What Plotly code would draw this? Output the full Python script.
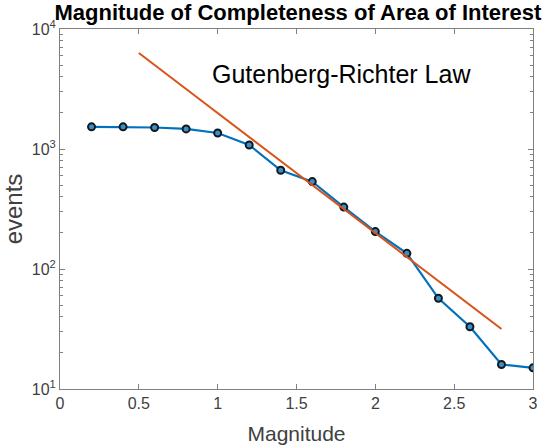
import numpy as np
import plotly.graph_objects as go

# Cumulative event counts per magnitude bin
magnitude = [0.2, 0.4, 0.6, 0.8, 1.0, 1.2, 1.4, 1.6, 1.8, 2.0, 2.2, 2.4, 2.6, 2.8, 3.0]
events = [1530, 1530, 1510, 1470, 1360, 1080, 665, 535, 328, 205, 135, 57, 33, 16, 15]

# Gutenberg-Richter fit: log10(N) = a - b*M
gr_a = 4.3
gr_b = 1.0
gr_range = [0.5, 2.8]

y_tickvals = [10, 100, 1000, 10000]
y_ticktext = ["10<sup>1</sup>", "10<sup>2</sup>", "10<sup>3</sup>", "10<sup>4</sup>"]
x_tickvals = [0, 0.5, 1, 1.5, 2, 2.5, 3]
x_ticktext = ["0", "0.5", "1", "1.5", "2", "2.5", "3"]

gr_m = np.array(gr_range)
gr_n = 10 ** (gr_a - gr_b * gr_m)

# minor ticks at 2..9 within each decade
y_minor = [m * 10 ** d for d in (1, 2, 3) for m in range(2, 10)]

FONT = "Liberation Sans, Arial, sans-serif"

fig = go.Figure()
fig.add_trace(go.Scatter(
    x=magnitude, y=events, mode="lines+markers",
    line=dict(color="#0072BD", width=2.2),
    marker=dict(symbol="circle", size=7, color="#3a8fc4",
                line=dict(color="#101820", width=2)),
    showlegend=False,
))
fig.add_trace(go.Scatter(
    x=gr_m, y=gr_n, mode="lines",
    line=dict(color="#D95319", width=2),
    showlegend=False,
))

tick_font = dict(family=FONT, size=16, color="#404040")

fig.update_layout(
    width=558, height=447,
    margin=dict(l=60, r=25, t=29, b=58),
    paper_bgcolor="white", plot_bgcolor="white",
    title=dict(text="<b>Magnitude of Completeness of Area of Interest</b>",
               x=0.534, xanchor="center", y=0.972, yanchor="middle",
               font=dict(family=FONT, size=22, color="black")),
    annotations=[dict(text="Gutenberg-Richter Law", xref="paper", yref="paper",
                      x=0.317, y=0.876, xanchor="left", yanchor="middle", showarrow=False,
                      font=dict(family=FONT, size=25, color="black"))],
)
fig.update_xaxes(
    range=[0, 3], tickvals=x_tickvals, ticktext=x_ticktext,
    ticks="inside", ticklen=5, tickcolor="#808080", tickwidth=1,
    showline=True, linecolor="#808080", linewidth=1, mirror="allticks",
    showgrid=False, zeroline=False, tickfont=tick_font, automargin=False,
    title=dict(text="Magnitude", font=dict(family=FONT, size=21, color="#404040"), standoff=15),
)
fig.update_yaxes(
    type="log", range=[1, 4], tickvals=y_tickvals, ticktext=y_ticktext,
    ticks="inside", ticklen=5, tickcolor="#808080", tickwidth=1,
    minor=dict(tickmode="array", tickvals=y_minor, ticks="inside", ticklen=3,
               tickcolor="#808080", showgrid=False),
    showline=True, linecolor="#808080", linewidth=1, mirror="allticks",
    showgrid=False, zeroline=False, tickfont=tick_font, automargin=False,
    title=dict(text="events", font=dict(family=FONT, size=24, color="#404040"), standoff=2),
)

fig.write_html("out.html")
